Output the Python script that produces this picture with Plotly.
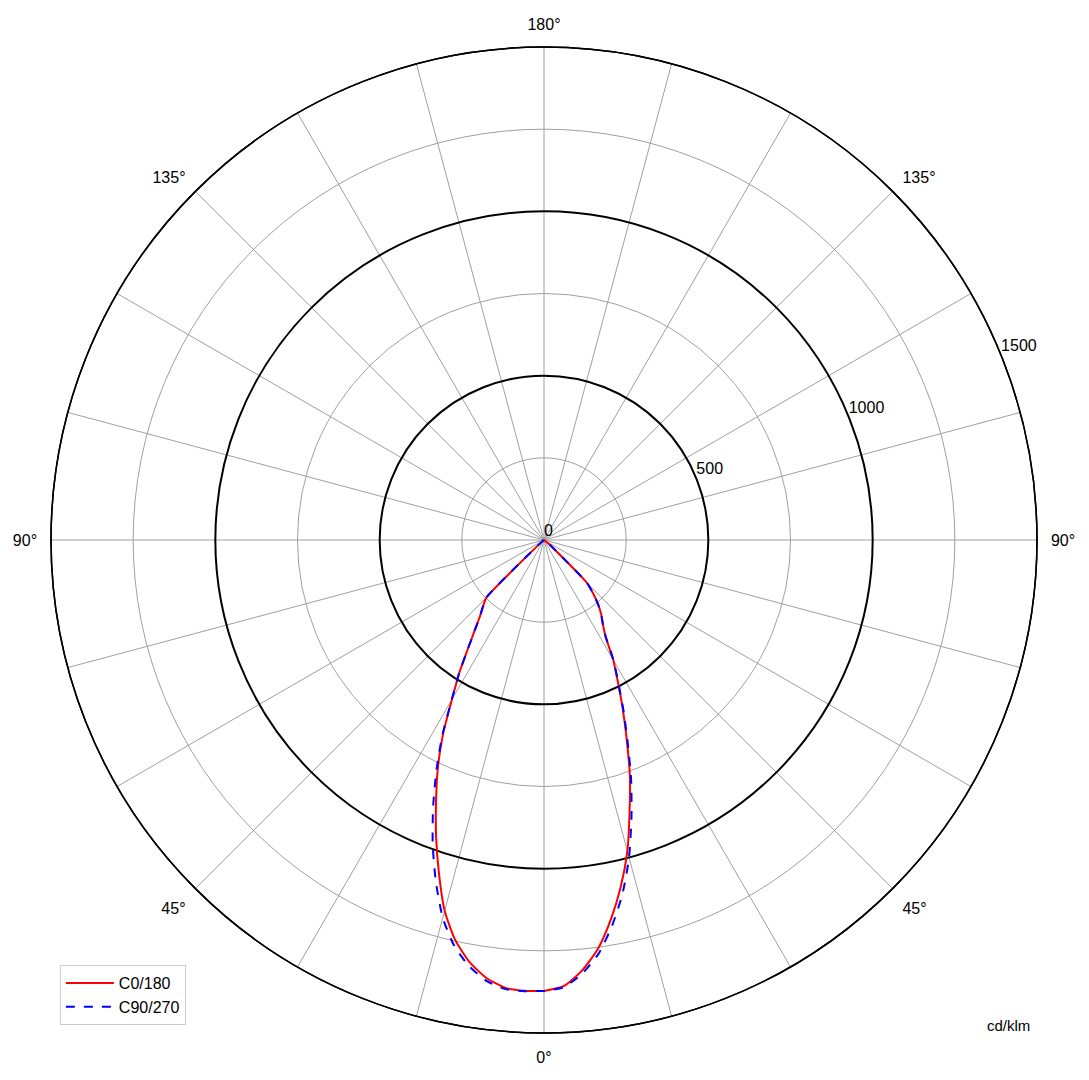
import plotly.graph_objects as go

# Gamma angles (deg from nadir) and intensities (cd/klm)
gamma = [0, 2.5, 5, 7.5, 10, 12.5, 15, 17.5, 20, 22.5, 25, 27.5, 30, 32.5, 35,
         37.5, 40, 42.5, 45, 50, 55, 60, 70, 80, 90]
c0 = [1372, 1359, 1316, 1255, 1172, 1080, 980, 866, 764, 658, 567, 487, 421, 349,
      312, 286, 256, 222, 185, 25, 5, 0, 0, 0, 0]
c180 = [1372, 1373, 1367, 1344, 1304, 1247, 1168, 1063, 960, 858, 764, 665, 560, 480,
        403, 346, 303, 275, 248, 10, 2, 0, 0, 0, 0]
c90 = [1372, 1362, 1325, 1270, 1192, 1103, 1000, 885, 775, 665, 572, 489, 423, 350,
       312, 286, 256, 222, 185, 25, 5, 0, 0, 0, 0]
c270 = [1372, 1374, 1371, 1352, 1316, 1264, 1190, 1093, 990, 882, 775, 670, 562, 481,
        403, 346, 303, 275, 248, 10, 2, 0, 0, 0, 0]

gray_rings = [250, 750, 1250]
black_rings = [500, 1000]
radial_labels = [0, 500, 1000, 1500]
spokes = list(range(0, 360, 15))
r_max = 1500


def spoke_label(v):
    if v % 45 != 0:
        return ""
    d = v if v <= 180 else 360 - v
    return f"{d}°"


def curve(right, left):
    theta = [-g for g in reversed(gamma)] + gamma
    r = list(reversed(left)) + right
    return theta, r


fig = go.Figure()

# radial tick labels (in the base polar so that its grid is drawn)
fig.add_trace(go.Scatterpolar(r=radial_labels, theta=[112.0] * len(radial_labels),
                              mode="text", text=[str(v) for v in radial_labels],
                              textposition="top right", cliponaxis=False,
                              textfont=dict(size=16, color="black"),
                              showlegend=False, hoverinfo="skip", subplot="polar"))

th, rr = curve(c0, c180)
fig.add_trace(go.Scatterpolar(r=rr, theta=th, mode="lines", name="C0/180",
                              line=dict(color="#ff0000", width=2, shape="spline",
                                        smoothing=0.6),
                              subplot="polar2"))
th, rr = curve(c90, c270)
fig.add_trace(go.Scatterpolar(r=rr, theta=th, mode="lines", name="C90/270",
                              line=dict(color="#0000ff", width=2, dash="dash",
                                        shape="spline", smoothing=0.6),
                              subplot="polar2"))

dom = dict(x=[0, 1], y=[0, 1])
fig.update_layout(
    width=1081, height=1072,
    margin=dict(l=43, r=52, t=39, b=47),
    paper_bgcolor="white",
    font=dict(family="Liberation Sans, Arial, sans-serif", size=16, color="black"),
    polar=dict(
        domain=dom, bgcolor="white",
        radialaxis=dict(range=[0, r_max], tickmode="array", tickvals=gray_rings,
                        showticklabels=False, ticks="", showline=False,
                        gridcolor="#a0a0a0", gridwidth=1),
        angularaxis=dict(rotation=-90, direction="counterclockwise",
                         tickmode="array", tickvals=spokes,
                         ticktext=[spoke_label(v) for v in spokes],
                         ticks="outside", ticklen=10, tickcolor="rgba(0,0,0,0)",
                         gridcolor="#a0a0a0", gridwidth=1,
                         showline=True, linecolor="black", linewidth=1.5),
    ),
    polar2=dict(
        domain=dom, bgcolor="rgba(0,0,0,0)",
        radialaxis=dict(range=[0, r_max], tickmode="array", tickvals=black_rings,
                        showticklabels=False, ticks="", showline=False,
                        gridcolor="black", gridwidth=1.5),
        angularaxis=dict(rotation=-90, direction="counterclockwise",
                         showgrid=False, showticklabels=False, ticks="",
                         showline=True, linecolor="black", linewidth=1.5),
    ),
    legend=dict(x=0.009, y=0.008, xanchor="left", yanchor="bottom",
                bgcolor="white", bordercolor="#cccccc", borderwidth=1,
                itemwidth=48, font=dict(size=16)),
    annotations=[dict(text="cd/klm", x=0.971, y=0.008, xref="paper", yref="paper",
                      xanchor="center", yanchor="middle", showarrow=False,
                      font=dict(size=15))],
)

fig.write_html("out.html")
